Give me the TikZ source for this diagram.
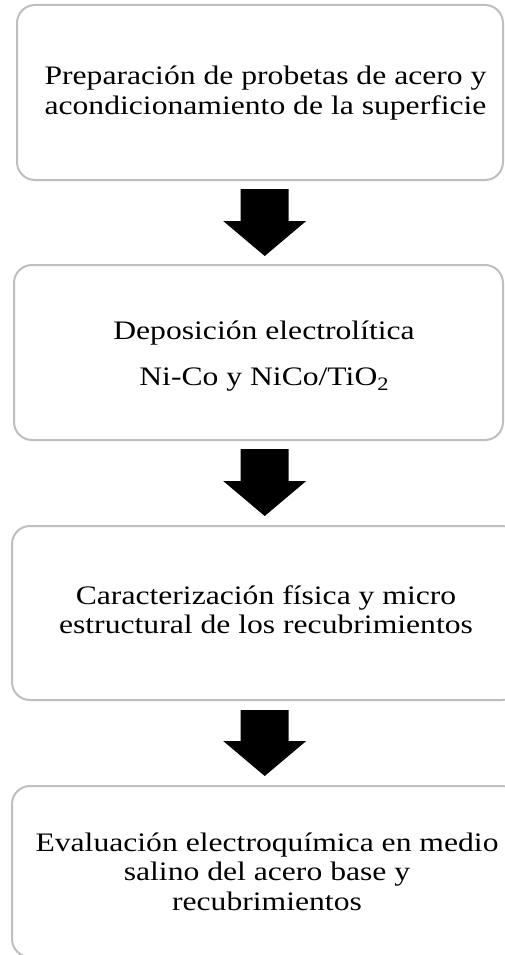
\documentclass[tikz,border=0pt]{standalone}
\usepackage{fontspec}
\setmainfont{Liberation Serif}
\usetikzlibrary{calc}
\newcommand{\steptext}[1]{\scalebox{1.185}[1]{\begin{tabular}[t]{@{}c@{}}#1\end{tabular}}}
\newcommand{\lowtwo}{\raisebox{-5pt}{\fontsize{19}{19}\selectfont 2}}
\tikzset{
  stepbox/.style={draw=black!25, line width=2pt, rounded corners=18pt, inner sep=0pt, fill=white},
  steplabel/.style={anchor=base, inner sep=0pt, font=\fontsize{26.7}{29.5}\selectfont, text=black},
  blockarrow/.style={fill=black, to path={let \p1=(\tikztostart), \p2=(\tikztotarget) in
    ({\x1-24pt},\y1) -- ({\x1+24pt},\y1) -- ({\x1+24pt},{\y2+35pt}) -- ({\x1+41.5pt},{\y2+35pt})
    -- (\x2,\y2) -- ({\x1-41.5pt},{\y2+35pt}) -- ({\x1-24pt},{\y2+35pt}) -- cycle}}
}
\begin{document}
\begin{tikzpicture}[x=1pt,y=-1pt]
\useasboundingbox (0,0) rectangle (504,955);
\fill[white] (0,0) rectangle (504,955);
% boxes
\node[stepbox, minimum width=486pt, minimum height=175pt] (b1) at (260,92.5) {};
\node[stepbox, minimum width=489pt, minimum height=175pt] (b2) at (258.5,352.5) {};
\node[stepbox, minimum width=508pt, minimum height=174pt] (b3) at (266,613) {};
\node[stepbox, minimum width=508pt, minimum height=171pt] (b4) at (266,871.5) {};
% texts
\node[steplabel] (t1) at (265.5,85) {\steptext{Preparación de probetas de acero y\\ acondicionamiento de la superficie}};
\node[steplabel] (t2) at (264,339) {\steptext{Deposición electrolítica\\[16.5pt] Ni-Co y NiCo/TiO\lowtwo}};
\node[steplabel] (t3) at (266,604) {\steptext{Caracterización física y micro\\ estructural de los recubrimientos}};
\node[steplabel] (t4) at (267,851) {\steptext{Evaluación electroquímica en medio\\ salino del acero base y\\ recubrimientos}};
% arrows
\coordinate (a1s) at (264.7,189);
\coordinate (a1e) at (264.7,256);
\coordinate (a2s) at (264.7,449);
\coordinate (a2e) at (264.7,516);
\coordinate (a3s) at (264.7,710);
\coordinate (a3e) at (264.7,776);
\fill[blockarrow] (a1s) to (a1e);
\fill[blockarrow] (a2s) to (a2e);
\fill[blockarrow] (a3s) to (a3e);
\end{tikzpicture}
\end{document}
